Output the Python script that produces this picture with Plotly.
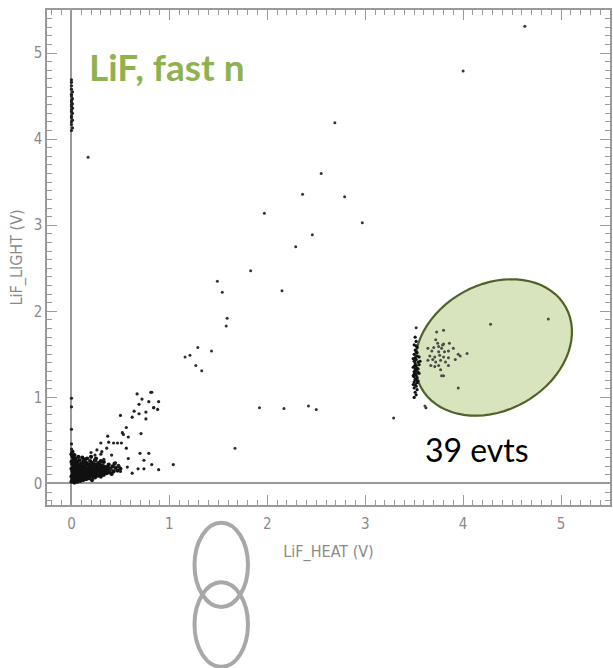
import math
import plotly.graph_objects as go

# ---- axis ticks -------------------------------------------------------------
tick_values = [0, 1, 2, 3, 4, 5]
tick_labels = ["0", "1", "2", "3", "4", "5"]

# ---- events: (heat, light) in volts ----------------------------------------
# dense low-energy blob near the origin
origin_blob = [
    (0.00, 0.02), (0.01, 0.05), (0.00, 0.08), (0.02, 0.11), (0.01, 0.14), (0.00, 0.17),
    (0.02, 0.19), (0.01, 0.22), (0.00, 0.25), (0.02, 0.28), (0.01, 0.31), (0.00, 0.34),
    (0.01, 0.37), (0.03, 0.01), (0.04, 0.04), (0.03, 0.07), (0.05, 0.09), (0.04, 0.12),
    (0.03, 0.15), (0.05, 0.17), (0.04, 0.20), (0.03, 0.23), (0.05, 0.26), (0.04, 0.29),
    (0.03, 0.33), (0.06, 0.02), (0.07, 0.05), (0.06, 0.08), (0.08, 0.10), (0.07, 0.13),
    (0.06, 0.16), (0.08, 0.18), (0.07, 0.21), (0.06, 0.24), (0.08, 0.27), (0.07, 0.31),
    (0.09, 0.03), (0.10, 0.06), (0.09, 0.09), (0.11, 0.11), (0.10, 0.14), (0.09, 0.17),
    (0.11, 0.20), (0.10, 0.23), (0.12, 0.26), (0.12, 0.04), (0.13, 0.07), (0.12, 0.10),
    (0.14, 0.12), (0.13, 0.15), (0.12, 0.18), (0.14, 0.21), (0.15, 0.24), (0.15, 0.05),
    (0.16, 0.08), (0.15, 0.11), (0.17, 0.13), (0.16, 0.16), (0.18, 0.19), (0.17, 0.22),
    (0.19, 0.26), (0.16, 0.29), (0.18, 0.06), (0.19, 0.09), (0.20, 0.12), (0.19, 0.15),
    (0.21, 0.17), (0.20, 0.20), (0.22, 0.23), (0.21, 0.04), (0.22, 0.08), (0.23, 0.11),
    (0.22, 0.14), (0.24, 0.16), (0.23, 0.19), (0.25, 0.22), (0.24, 0.07), (0.25, 0.10),
    (0.26, 0.13), (0.27, 0.16), (0.26, 0.19), (0.28, 0.24), (0.27, 0.09), (0.28, 0.12),
    (0.29, 0.15), (0.30, 0.18), (0.29, 0.21), (0.30, 0.08), (0.31, 0.11), (0.32, 0.14),
    (0.31, 0.17), (0.33, 0.20), (0.33, 0.10), (0.34, 0.13), (0.35, 0.16), (0.36, 0.19),
    (0.36, 0.12), (0.37, 0.15), (0.38, 0.22), (0.39, 0.13), (0.40, 0.17), (0.41, 0.11),
    (0.42, 0.20), (0.43, 0.14), (0.45, 0.18), (0.47, 0.15), (0.02, 0.03), (0.05, 0.06),
    (0.08, 0.07), (0.11, 0.08), (0.14, 0.09), (0.17, 0.10), (0.20, 0.09), (0.02, 0.16),
    (0.05, 0.13), (0.08, 0.15), (0.11, 0.17), (0.14, 0.18), (0.18, 0.14), (0.21, 0.13),
    (0.24, 0.12), (0.27, 0.14), (0.02, 0.24), (0.06, 0.20), (0.09, 0.22), (0.13, 0.24),
    (0.17, 0.17), (0.23, 0.15), (0.26, 0.17), (0.29, 0.12), (0.32, 0.16), (0.35, 0.14),
    (0.01, 0.10), (0.04, 0.08), (0.07, 0.11), (0.10, 0.10), (0.13, 0.12), (0.16, 0.12),
    (0.19, 0.18), (0.22, 0.18), (0.25, 0.18), (0.28, 0.19), (0.31, 0.21), (0.34, 0.18),
    (0.03, 0.19), (0.06, 0.12), (0.09, 0.13), (0.12, 0.15), (0.15, 0.15), (0.18, 0.22),
    (0.21, 0.24), (0.24, 0.27), (0.20, 0.31), (0.14, 0.28), (0.11, 0.30), (0.25, 0.29),
    (0.30, 0.26), (0.33, 0.25), (0.38, 0.18), (0.44, 0.23), (0.48, 0.20), (0.50, 0.17),
]

# events sitting on the light axis (zero heat)
light_axis_events = [
    (0.00, 0.40), (0.00, 0.46), (0.00, 0.63), (0.00, 0.89), (0.00, 0.99),
    (0.00, 4.10), (0.01, 4.13), (0.00, 4.17), (0.00, 4.20), (0.01, 4.22), (0.00, 4.25),
    (0.00, 4.27), (0.01, 4.30), (0.00, 4.32), (0.00, 4.34), (0.01, 4.36), (0.00, 4.38),
    (0.00, 4.40), (0.01, 4.41), (0.00, 4.43), (0.00, 4.45), (0.01, 4.47), (0.00, 4.50),
    (0.00, 4.52), (0.01, 4.55), (0.00, 4.58), (0.00, 4.62), (0.00, 4.66), (0.00, 4.69),
]

# electron/gamma band rising from the blob
gamma_band = [
    (0.67, 1.04), (0.81, 1.06), (0.72, 0.98), (0.79, 0.95), (0.89, 0.95), (0.69, 0.92),
    (0.84, 0.88), (0.88, 0.86), (0.64, 0.84), (0.76, 0.83), (0.50, 0.79), (0.62, 0.77),
    (0.69, 0.81), (0.76, 0.75), (0.56, 0.65), (0.52, 0.59), (0.53, 0.57), (0.37, 0.55),
    (0.71, 0.58), (0.58, 0.54), (0.30, 0.47), (0.38, 0.48), (0.43, 0.47), (0.47, 0.47),
    (0.51, 0.47), (0.36, 0.41), (0.56, 0.41), (0.26, 0.39), (0.31, 0.37), (0.41, 0.33),
    (0.70, 0.35), (0.79, 0.35), (0.58, 0.29), (0.74, 0.27), (0.82, 0.22), (1.04, 0.22),
    (0.89, 0.16), (0.74, 0.17), (0.68, 0.17), (0.62, 0.12), (0.57, 0.19), (0.48, 0.21),
    (0.24, 0.33), (0.20, 0.36), (0.30, 0.34), (0.25, 0.26), (0.33, 0.28), (0.45, 0.24),
    (0.50, 0.14), (0.40, 0.16), (0.82, 1.06), (0.84, 0.88),
]

# sparse high-energy events
isolated_events = [
    (4.63, 5.31), (4.00, 4.79), (0.17, 3.79), (2.69, 4.19), (2.55, 3.60), (2.36, 3.36),
    (2.79, 3.33), (1.97, 3.14), (2.97, 3.03), (2.46, 2.89), (2.29, 2.75), (1.83, 2.47),
    (1.49, 2.35), (1.54, 2.22), (2.15, 2.24), (1.59, 1.92), (1.58, 1.83), (1.29, 1.58),
    (1.43, 1.54), (1.16, 1.47), (1.21, 1.49), (1.27, 1.37), (1.33, 1.31), (1.92, 0.88),
    (2.17, 0.87), (2.42, 0.90), (2.50, 0.86), (3.29, 0.76), (1.67, 0.41), (3.52, 1.81),
    (3.62, 0.88),
]

# alpha line of the 6Li(n,alpha)t capture
capture_line = [
    (3.51, 1.70), (3.52, 1.65), (3.50, 1.61), (3.53, 1.58), (3.51, 1.55), (3.52, 1.53),
    (3.50, 1.50), (3.53, 1.48), (3.51, 1.46), (3.52, 1.44), (3.50, 1.42), (3.54, 1.41),
    (3.51, 1.39), (3.52, 1.37), (3.50, 1.36), (3.53, 1.34), (3.51, 1.33), (3.52, 1.31),
    (3.50, 1.30), (3.54, 1.29), (3.51, 1.27), (3.52, 1.26), (3.50, 1.24), (3.53, 1.23),
    (3.51, 1.21), (3.52, 1.20), (3.50, 1.18), (3.53, 1.17), (3.51, 1.15), (3.52, 1.13),
    (3.50, 1.11), (3.53, 1.09), (3.51, 1.06), (3.52, 1.03), (3.50, 1.00), (3.49, 1.45),
    (3.49, 1.35), (3.49, 1.25), (3.55, 1.38), (3.55, 1.28), (3.55, 1.47), (3.54, 1.19),
    (3.49, 1.15), (3.52, 1.60), (3.53, 1.52), (3.54, 1.33), (3.56, 1.42), (3.50, 1.27),
]

# events selected by the fast-neutron region
fast_n_events = [
    (4.28, 1.85), (4.87, 1.91), (4.04, 1.51), (3.95, 1.11), (3.61, 0.90),
    (3.73, 1.76), (3.80, 1.78), (3.72, 1.67), (3.74, 1.63), (3.80, 1.62), (3.86, 1.63),
    (3.79, 1.61), (3.64, 1.57), (3.70, 1.58), (3.75, 1.59), (3.78, 1.57), (3.68, 1.54),
    (3.75, 1.53), (3.81, 1.53), (3.85, 1.54), (3.90, 1.57), (3.95, 1.50), (3.97, 1.48),
    (3.66, 1.48), (3.71, 1.47), (3.76, 1.49), (3.80, 1.47), (3.85, 1.46), (3.92, 1.44),
    (3.64, 1.43), (3.69, 1.44), (3.72, 1.41), (3.77, 1.43), (3.82, 1.41), (3.67, 1.37),
    (3.71, 1.36), (3.75, 1.37), (3.85, 1.37), (3.77, 1.32), (3.78, 1.25), (3.80, 1.25),
]

# ---- page geometry ----------------------------------------------------------
W, H = 613, 668
M_L, M_R, M_T, M_B = 47, 1, 10, 163
X_RANGE = [-0.25, 5.5]
Y_RANGE = [-0.25, 5.5]

AXIS_GREY = "#9a9a9a"
TEXT_GREY = "#8a8a8a"
NARROW = "Liberation Sans Narrow, DejaVu Sans Condensed, Roboto, sans-serif"

fig = go.Figure()

groups = [
    (origin_blob, 4.2, "#111111"),
    (light_axis_events, 3.2, "#222222"),
    (gamma_band, 3.2, "#222222"),
    (isolated_events, 3, "#333333"),
    (capture_line, 3.2, "#111111"),
    (fast_n_events, 3, "#4a4a4a"),
]
for pts, size, colour in groups:
    fig.add_trace(go.Scatter(
        x=[p[0] for p in pts], y=[p[1] for p in pts],
        mode="markers", marker=dict(size=size, color=colour),
        showlegend=False, hoverinfo="x+y",
    ))

# selection ellipse, defined in screen pixels then mapped back to volts
plot_w = W - M_L - M_R
plot_h = H - M_T - M_B
sx = plot_w / (X_RANGE[1] - X_RANGE[0])
sy = plot_h / (Y_RANGE[1] - Y_RANGE[0])
cx, cy = 4.31, 1.58          # centre (V)
a_px, b_px, tilt = 83, 63, math.radians(29)
path = []
for k in range(73):
    t = 2 * math.pi * k / 72
    dx = a_px * math.cos(t) * math.cos(tilt) - b_px * math.sin(t) * math.sin(tilt)
    dy = a_px * math.cos(t) * math.sin(tilt) + b_px * math.sin(t) * math.cos(tilt)
    path.append(f"{'M' if k == 0 else 'L'}{cx + dx / sx:.4f},{cy + dy / sy:.4f}")
fig.add_shape(type="path", path=" ".join(path) + " Z", xref="x", yref="y",
              fillcolor="#d7e4bd", line=dict(color="#4f6228", width=2.2), layer="below")

# two interlinked rings below the axis
for y0, y1 in [(-0.206, -0.036), (-0.327, -0.156)]:
    fig.add_shape(type="circle", xref="paper", yref="paper",
                  x0=0.262, x1=0.357, y0=y0, y1=y1,
                  line=dict(color="#a8a8a8", width=4))

fig.add_annotation(text="<b>LiF, fast n</b>", xref="paper", yref="paper",
                   x=(87 - M_L) / plot_w, y=1 - (67 - M_T) / plot_h,
                   xanchor="left", yanchor="middle", showarrow=False,
                   font=dict(family="Lato, sans-serif", size=37, color="#8eb24f"))
fig.add_annotation(text="39 evts", xref="paper", yref="paper",
                   x=(479 - M_L) / plot_w, y=1 - (449 - M_T) / plot_h,
                   xanchor="center", yanchor="middle", showarrow=False,
                   font=dict(family="Lato, sans-serif", size=32, color="#000000"))

axis_common = dict(
    tickmode="array", tickvals=tick_values, ticktext=tick_labels,
    ticks="inside", ticklen=10, tickwidth=1.2, tickcolor=AXIS_GREY,
    showline=True, linecolor=AXIS_GREY, linewidth=1.5, mirror="allticks",
    showgrid=False, zeroline=True, zerolinecolor=AXIS_GREY, zerolinewidth=1.5,
    tickfont=dict(family=NARROW, size=15, color=TEXT_GREY),
    minor=dict(ticks="inside", dtick=0.1, tick0=0, ticklen=5, tickwidth=1,
               tickcolor=AXIS_GREY, showgrid=False),
)

fig.update_xaxes(**axis_common, range=X_RANGE, ticklabelstandoff=4,
                 title=dict(text="LiF_HEAT (V)", standoff=14,
                            font=dict(family=NARROW, size=16, color=TEXT_GREY)))
fig.update_yaxes(**axis_common, range=Y_RANGE,
                 title=dict(text="LiF_LIGHT (V)", standoff=7,
                            font=dict(family=NARROW, size=16, color=TEXT_GREY)))

fig.update_layout(
    width=W, height=H, margin=dict(l=M_L, r=M_R, t=M_T, b=M_B, pad=0),
    plot_bgcolor="white", paper_bgcolor="white",
)

fig.write_html("out.html")
